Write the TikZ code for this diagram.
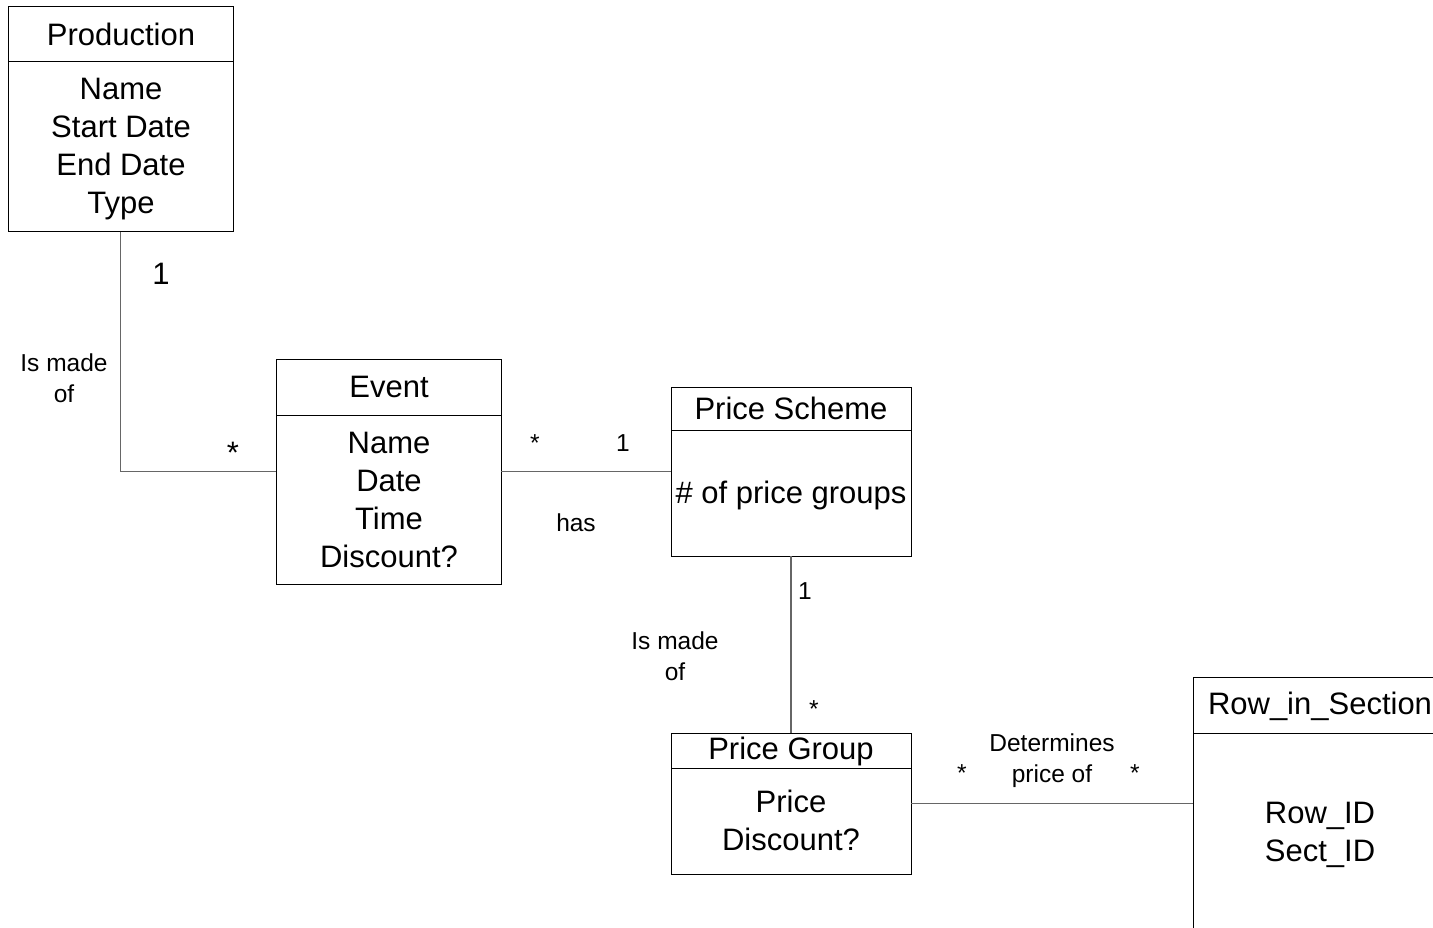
\documentclass[tikz,border=0pt]{standalone}
\usepackage{fontspec}
\setmainfont{Liberation Sans}
\begin{document}
\begin{tikzpicture}[x=1pt,y=-1pt,
  box/.style={draw=black, line width=1pt, anchor=north west, inner sep=0pt, outer sep=0pt},
  divider/.style={draw=black, line width=1pt},
  big/.style={font=\fontsize{31}{38}\selectfont, align=center, inner sep=0pt},
  small/.style={font=\fontsize{24.5}{31}\selectfont, align=center, inner sep=0pt},
  link/.style={draw=black!60, line width=1.5pt}]
\useasboundingbox (0,0) rectangle (1433,928);
\clip (0,0) rectangle (1433,928);

% class boxes
\node[box, minimum width=225pt, minimum height=225pt] (prod) at (8,7) {};
\draw[divider] (8,62) -- (233,62);
\node[big] (prodT) at (121,34) {Production};
\node[big] (prodA) at (121,149) {Name\\Start Date\\End Date\\Type};

\node[box, minimum width=225pt, minimum height=225pt] (event) at (276,359) {};
\draw[divider] (276,415) -- (501,415);
\node[big] (eventT) at (389,387) {Event};
\node[big] (eventA) at (389,500) {Name\\Date\\Time\\Discount?};

\node[box, minimum width=240pt, minimum height=169pt] (scheme) at (671,387) {};
\draw[divider] (671,430) -- (911,430);
\node[big] (schemeT) at (791,408) {Price Scheme};
\node[big] (schemeA) at (791,495) {\# of price groups};

\node[box, minimum width=240pt, minimum height=141pt] (group) at (671,733) {};
\draw[divider] (671,768) -- (911,768);
\node[big] (groupT) at (791,751) {Price Group};
\node[big] (groupA) at (791,820) {Price\\Discount?};

\node[box, minimum width=270pt, minimum height=253pt] (row) at (1193,677) {};
\draw[divider] (1193,733) -- (1463,733);
\node[big] (rowT) at (1320,706) {Row\_in\_Section};
\node[big] (rowA) at (1320,835) {Row\_ID\\Sect\_ID};

% associations
\draw[link] (prod.south) |- (event.west);
\draw[link] (event.east) -- (scheme.west);
\draw[link] (scheme.south) -- (group.north);
\draw[link] (group.east) -- (row.west);

% multiplicities and role names
\node[big] (m1) at (161,274) {1};
\node[big] (m2) at (233,453) {*};
\node[small] (r1) at (64,378) {Is made\\of};

\node[small] (m3) at (535,443) {*};
\node[small] (m4) at (623,443) {1};
\node[small] (r2) at (576,523) {has};

\node[small] (m5) at (805,591) {1};
\node[small] (m6) at (814,709) {*};
\node[small] (r3) at (675,656) {Is made\\of};

\node[small] (m7) at (962,773) {*};
\node[small] (m8) at (1135,773) {*};
\node[small] (r4) at (1052,761) {Determines\\price of};
\end{tikzpicture}
\end{document}
